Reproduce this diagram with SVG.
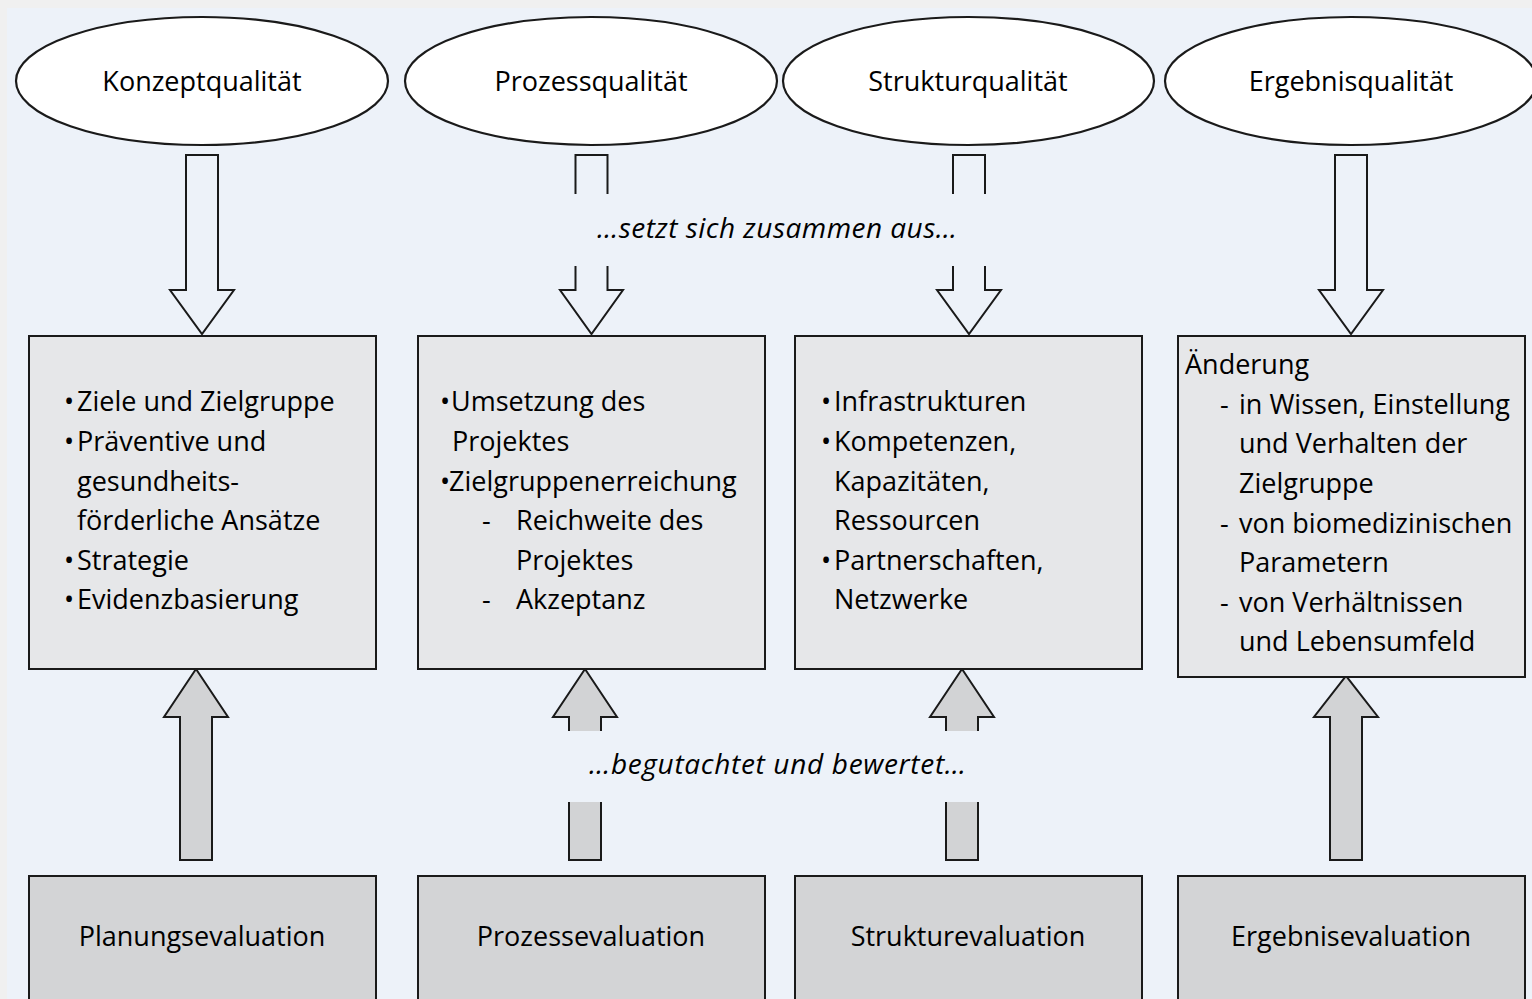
<svg xmlns="http://www.w3.org/2000/svg" width="1532" height="999" viewBox="0 0 1532 999">
  <style>
    .frame { fill: #f0f0f0; }
    .panel { fill: #edf2f9; }
    .oval { fill: #ffffff; stroke: #1a1a1a; stroke-width: 2.2; }
    .box { fill: #e6e7e9; stroke: #1a1a1a; stroke-width: 2; }
    .evalbox { fill: #d3d4d6; stroke: #1a1a1a; stroke-width: 2; }
    .down { fill: #edf2f9; stroke: #1a1a1a; stroke-width: 2; stroke-linejoin: miter; }
    .up { fill: #d2d3d5; stroke: #1a1a1a; stroke-width: 2; stroke-linejoin: miter; }
    .open { fill: none; stroke: #1a1a1a; stroke-width: 2; }
    text { font-family: "Open Sans", "Noto Sans", "Liberation Sans", sans-serif; font-size: 27px; fill: #000000; }
    .c { text-anchor: middle; }
    .it { font-style: italic; font-size: 28px; }
  </style>

  <!-- page background -->
  <rect class="frame" x="0" y="0" width="1532" height="999"/>
  <rect class="panel" x="7" y="8" width="1525" height="991"/>

  <!-- connectors -->
  <g id="connectors">
    <!-- Konzeptqualität -> content box -->
    <path class="down" d="M186,155 H218 V290 H234 L202,334 L170,290 H186 Z"/>
    <!-- Prozessqualität (interrupted by caption) -->
    <path class="open" d="M575.5,194 V155 H607.5 V194"/>
    <path class="down" d="M575.5,266 V290 H560 L591.5,334 L623,290 H607.5 V266"/>
    <!-- Strukturqualität (interrupted by caption) -->
    <path class="open" d="M953,194 V155 H985 V194"/>
    <path class="down" d="M953,266 V290 H937 L969,334 L1001,290 H985 V266"/>
    <!-- Ergebnisqualität -> content box -->
    <path class="down" d="M1335,155 H1367 V290 H1383 L1351,334 L1319,290 H1335 Z"/>

    <!-- Planungsevaluation -> content box -->
    <path class="up" d="M180,860 V717 H164 L196,669 L228,717 H212 V860 Z"/>
    <!-- Prozessevaluation (interrupted by caption) -->
    <path class="up" d="M569,731 V717 H553 L585,669 L617,717 H601 V731"/>
    <path class="up" d="M569,802 V860 H601 V802"/>
    <!-- Strukturevaluation (interrupted by caption) -->
    <path class="up" d="M946,731 V717 H930 L962,669 L994,717 H978 V731"/>
    <path class="up" d="M946,802 V860 H978 V802"/>
    <!-- Ergebnisevaluation -> content box -->
    <path class="up" d="M1330,860 V717 H1314 L1346,676 L1378,717 H1362 V860 Z"/>

    <text class="it" x="597" y="238" textLength="360" lengthAdjust="spacing">…setzt sich zusammen aus…</text>
    <text class="it" x="589" y="774" textLength="377" lengthAdjust="spacing">…begutachtet und bewertet…</text>
  </g>

  <!-- quality dimensions -->
  <g id="konzeptqualitaet">
    <ellipse class="oval" cx="202" cy="81" rx="186" ry="64"/>
    <text class="c" x="202" y="91">Konzeptqualität</text>
  </g>
  <g id="prozessqualitaet">
    <ellipse class="oval" cx="591" cy="81" rx="186" ry="64"/>
    <text class="c" x="591" y="91">Prozessqualität</text>
  </g>
  <g id="strukturqualitaet">
    <ellipse class="oval" cx="968.5" cy="81" rx="185.5" ry="64"/>
    <text class="c" x="968" y="91">Strukturqualität</text>
  </g>
  <g id="ergebnisqualitaet">
    <ellipse class="oval" cx="1351" cy="81" rx="186" ry="64"/>
    <text class="c" x="1351" y="91">Ergebnisqualität</text>
  </g>

  <!-- contents -->
  <g id="inhalt-konzept">
    <rect class="box" x="29" y="336" width="347" height="333"/>
    <text x="64" y="411">•</text><text x="77" y="411">Ziele und Zielgruppe</text>
    <text x="64" y="451">•</text><text x="77" y="451">Präventive und</text>
    <text x="77" y="491">gesundheits-</text>
    <text x="77" y="530">förderliche Ansätze</text>
    <text x="64" y="570">•</text><text x="77" y="570">Strategie</text>
    <text x="64" y="609">•</text><text x="77" y="609">Evidenzbasierung</text>
  </g>
  <g id="inhalt-prozess">
    <rect class="box" x="418" y="336" width="347" height="333"/>
    <text x="440" y="411">•</text><text x="451" y="411">Umsetzung des</text>
    <text x="452" y="451">Projektes</text>
    <text x="440" y="491">•</text><text x="449" y="491">Zielgruppenerreichung</text>
    <text x="482" y="530">-</text><text x="516" y="530">Reichweite des</text>
    <text x="516" y="570">Projektes</text>
    <text x="482" y="609">-</text><text x="516" y="609">Akzeptanz</text>
  </g>
  <g id="inhalt-struktur">
    <rect class="box" x="795" y="336" width="347" height="333"/>
    <text x="821" y="411">•</text><text x="834" y="411">Infrastrukturen</text>
    <text x="821" y="451">•</text><text x="834" y="451">Kompetenzen,</text>
    <text x="834" y="491">Kapazitäten,</text>
    <text x="834" y="530">Ressourcen</text>
    <text x="821" y="570">•</text><text x="834" y="570">Partnerschaften,</text>
    <text x="834" y="609">Netzwerke</text>
  </g>
  <g id="inhalt-ergebnis">
    <rect class="box" x="1178" y="336" width="347" height="341"/>
    <text x="1185" y="374">Änderung</text>
    <text x="1220" y="414">-</text><text x="1239" y="414">in Wissen, Einstellung</text>
    <text x="1239" y="453">und Verhalten der</text>
    <text x="1239" y="493">Zielgruppe</text>
    <text x="1220" y="533">-</text><text x="1239" y="533">von biomedizinischen</text>
    <text x="1239" y="572">Parametern</text>
    <text x="1220" y="612">-</text><text x="1239" y="612">von Verhältnissen</text>
    <text x="1239" y="651">und Lebensumfeld</text>
  </g>

  <!-- evaluation types -->
  <g id="planungsevaluation">
    <rect class="evalbox" x="29" y="876" width="347" height="140"/>
    <text class="c" x="202" y="946">Planungsevaluation</text>
  </g>
  <g id="prozessevaluation">
    <rect class="evalbox" x="418" y="876" width="347" height="140"/>
    <text class="c" x="591" y="946">Prozessevaluation</text>
  </g>
  <g id="strukturevaluation">
    <rect class="evalbox" x="795" y="876" width="347" height="140"/>
    <text class="c" x="968" y="946">Strukturevaluation</text>
  </g>
  <g id="ergebnisevaluation">
    <rect class="evalbox" x="1178" y="876" width="347" height="140"/>
    <text class="c" x="1351" y="946">Ergebnisevaluation</text>
  </g>
</svg>
